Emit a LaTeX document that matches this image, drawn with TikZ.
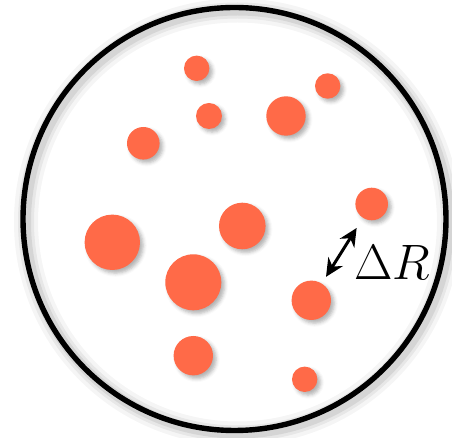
\documentclass[tikz,border=0pt]{standalone}
\usetikzlibrary{arrows.meta,shadows.blur}
\definecolor{dotred}{RGB}{255,106,72}
\begin{document}
\begin{tikzpicture}[x=0.5pt, y=-0.5pt,
  dot/.style={circle, fill=dotred, inner sep=0pt, outer sep=0pt,
    blur shadow={shadow xshift=1.6pt, shadow yshift=-1.6pt, shadow blur radius=1.8pt, shadow opacity=30}},
  ring/.style={circle, draw=black, line width=2.7pt, inner sep=0pt, minimum size=211.5pt},
  gap/.style={{Stealth[length=9pt,width=8.5pt]}-{Stealth[length=9pt,width=8.5pt]}, line width=1.5pt},
]
\useasboundingbox (0,0) rectangle (452,438);
% soft shadow of the dish
\foreach \w/\o in {12/0.04, 8/0.06, 5/0.08}
  \draw[black, opacity=\o, line width=\w pt] (237.5,222) circle (211.5);
\node[ring] (dish) at (234.5,219) {};
% particles
\foreach \n/\x/\y/\r in {a/196.7/68.3/12.7, b/327.7/86/12.7, c/209/116/13,
    d/286/116/19.7, e/143.3/143.3/16.3, f/371.7/204/16.3,
    g/112.3/242.3/27.7, h/242.3/226/23.3, i/193.3/282.3/28,
    j/311.3/300.3/19.7, k/193.3/355.7/19.7, l/304.7/379.3/12.7}
  \node[dot, minimum size=\r*1pt] (\n) at (\x,\y) {};
\draw[gap, shorten <=6pt, shorten >=4pt] (f) -- (j);
\node[inner sep=0pt, font=\fontsize{23}{27}\selectfont] (dR) at (392,263) {$\Delta R$};
\end{tikzpicture}
\end{document}
